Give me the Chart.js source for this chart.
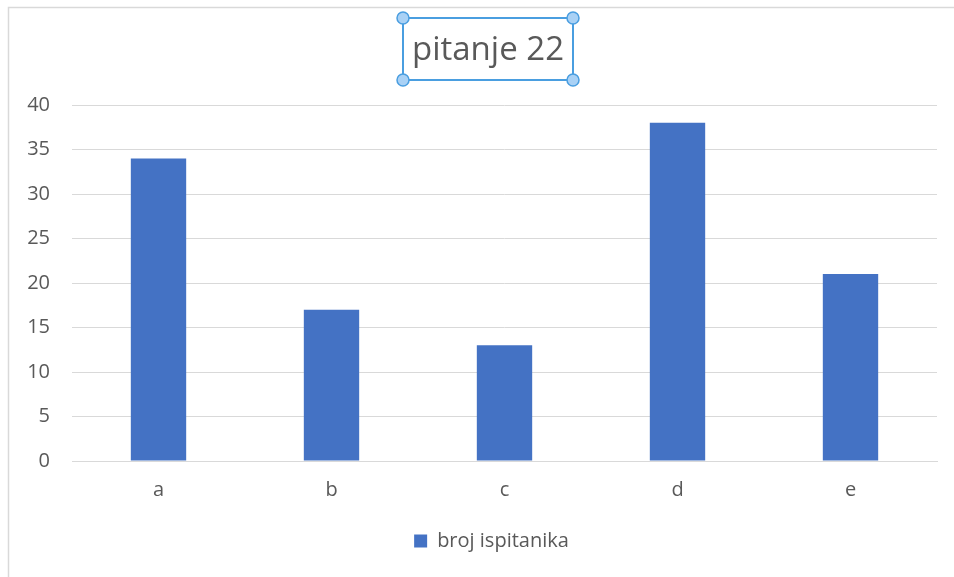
<!DOCTYPE html>
<html>
<head>
<meta charset="utf-8">
<script src="https://cdn.jsdelivr.net/npm/chart.js@4"></script>
<style>
html,body{margin:0;padding:0;background:#fff;}
#wrap{position:relative;width:954px;height:577px;}
</style>
</head>
<body>
<div id="wrap"><canvas id="c" width="954" height="577"></canvas></div>
<script>
const categories = ['a', 'b', 'c', 'd', 'e'];
const seriesName = 'broj ispitanika';
const values = [34, 17, 13, 38, 21];
const titleText = 'pitanje 22';
const yTicks = [0, 5, 10, 15, 20, 25, 30, 35, 40];

const FONT = '"Open Sans", Lato, sans-serif';
const GREY = '#595959';

const decor = {
  id: 'decor',
  afterLayout(chart) {
    const lg = chart.legend;
    if (lg) { lg.left += 13; lg.right += 13; }
  },
  beforeDraw(chart) {
    const ctx = chart.ctx;
    ctx.save();
    ctx.fillStyle = '#fff';
    ctx.fillRect(0, 0, chart.width, chart.height);
    ctx.strokeStyle = '#d9d9d9';
    ctx.lineWidth = 1.5;
    ctx.beginPath();
    ctx.moveTo(8.5, chart.height);
    ctx.lineTo(8.5, 7.5);
    ctx.lineTo(chart.width, 7.5);
    ctx.stroke();
    ctx.restore();
  },
  afterDraw(chart) {
    const ctx = chart.ctx;
    ctx.save();
    ctx.font = '33px ' + FONT;
    ctx.fillStyle = GREY;
    ctx.textAlign = 'center';
    ctx.textBaseline = 'middle';
    const cx = 488, cy = 51;
    ctx.fillText(titleText, cx, cy);
    const x0 = 403, y0 = 18, x1 = 573, y1 = 80;
    ctx.strokeStyle = '#4a9ee0';
    ctx.lineWidth = 2;
    ctx.strokeRect(x0, y0, x1 - x0, y1 - y0);
    [[x0,y0],[x1,y0],[x0,y1],[x1,y1]].forEach(([x,y]) => {
      ctx.beginPath();
      ctx.arc(x, y, 6, 0, Math.PI * 2);
      ctx.fillStyle = '#a9d1f5';
      ctx.fill();
      ctx.lineWidth = 1.5;
      ctx.strokeStyle = '#4a9ee0';
      ctx.stroke();
    });
    ctx.restore();
  }
};

new Chart(document.getElementById('c'), {
  type: 'bar',
  data: {
    labels: categories,
    datasets: [{
      label: seriesName,
      data: values,
      backgroundColor: '#4472C4',
      borderWidth: 0,
      categoryPercentage: 1,
      barPercentage: 0.32
    }]
  },
  options: {
    responsive: false,
    animation: false,
    devicePixelRatio: 1,
    layout: { padding: { left: 20, right: 17, top: 105, bottom: 16 } },
    plugins: {
      title: { display: false },
      tooltip: { enabled: false },
      legend: {
        position: 'bottom',
        labels: {
          boxWidth: 13, boxHeight: 13,
          color: GREY,
          font: { family: FONT, size: 20 },
          padding: 10
        }
      }
    },
    scales: {
      x: {
        grid: { display: false, drawTicks: false },
        border: { display: true, color: '#d9d9d9', width: 1 },
        ticks: { color: GREY, font: { family: FONT, size: 20 }, padding: 17 },
        afterFit(s) { s.height = 60; }
      },
      y: {
        min: 0, max: 40,
        afterBuildTicks(s) { s.ticks = yTicks.map(v => ({ value: v })); },
        grid: { color: '#d9d9d9', lineWidth: 1, drawTicks: false },
        border: { display: false },
        ticks: { color: GREY, font: { family: FONT, size: 20 }, padding: 22 },
        afterFit(s) { s.width = 52; }
      }
    }
  },
  plugins: [decor]
});
</script>
</body>
</html>
